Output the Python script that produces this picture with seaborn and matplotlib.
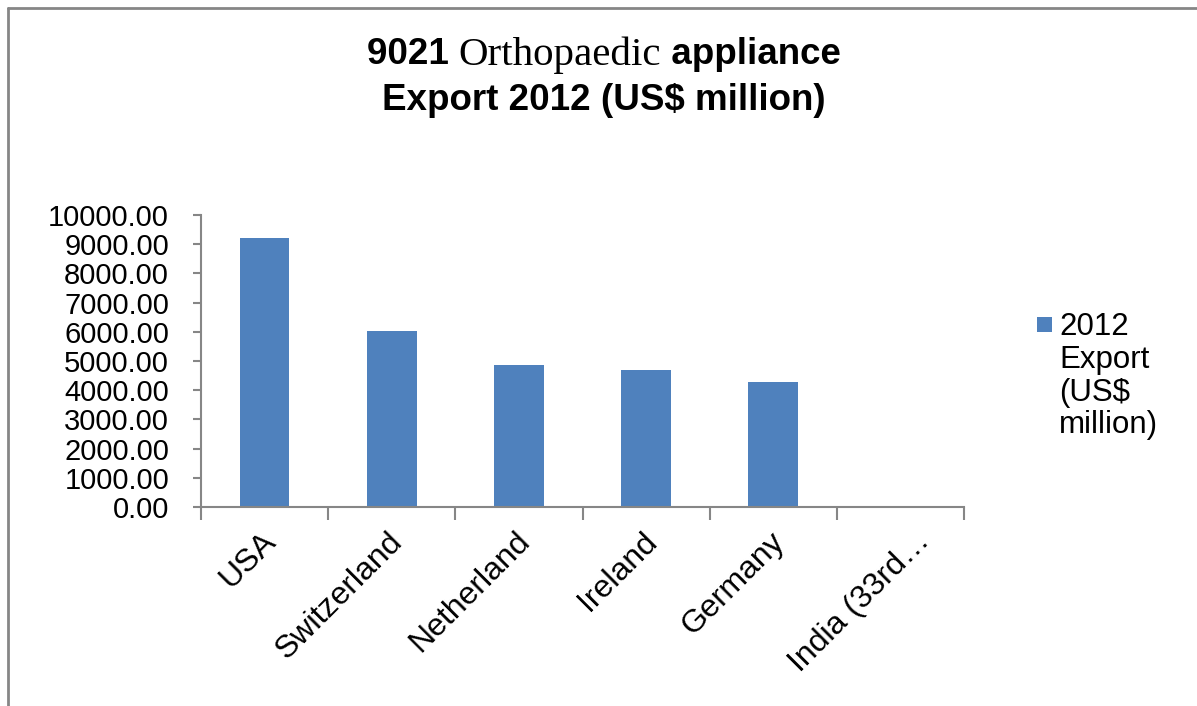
import matplotlib
matplotlib.use("Agg")
import matplotlib.pyplot as plt
from matplotlib.lines import Line2D
from matplotlib.patches import Rectangle
from matplotlib.ticker import FixedLocator, FuncFormatter
import matplotlib.transforms as mtransforms
import seaborn as sns
import pandas as pd

# ---- data ----
countries = ["USA", "Switzerland", "Netherland", "Ireland", "Germany", "India (33rd\u2026"]
export_2012 = [9215, 6030, 4865, 4695, 4280, 12]
series_label = "2012\nExport\n(US$\nmillion)"
title_line1 = ["9021 ", "Orthopaedic", " appliance"]
title_line2 = "Export 2012 (US$ million)"
y_ticks = [0, 1000, 2000, 3000, 4000, 5000, 6000, 7000, 8000, 9000, 10000]

BAR = "#4F81BD"
GRAY = "#868686"
YFS = 21
XFS = 23
LFS = 22.5

sns.set_theme(style="white")
plt.rcParams["font.family"] = ["Liberation Sans", "DejaVu Sans"]

W, H = 1197, 706
fig = plt.figure(figsize=(W / 100, H / 100), dpi=100)
ax = fig.add_axes([201 / W, 1 - 507 / H, (964 - 201) / W, (507 - 215) / H])

df = pd.DataFrame({"country": countries, "value": export_2012})
sns.barplot(data=df, x="country", y="value", color=BAR, saturation=1,
            width=0.39, ax=ax, edgecolor="none")

ax.set_xlim(-0.5, len(countries) - 0.5)
ax.set_ylim(0, 10000)
ax.set_xlabel("")
ax.set_ylabel("")

for s in ["top", "right"]:
    ax.spines[s].set_visible(False)
for s in ["left", "bottom"]:
    ax.spines[s].set_color(GRAY)
    ax.spines[s].set_linewidth(1.5)

ax.yaxis.set_major_locator(FixedLocator(y_ticks))
ax.yaxis.set_major_formatter(FuncFormatter(lambda v, p: f"{v:.2f}"))
ax.tick_params(axis="y", which="major", direction="out", length=6, width=1.5,
               color=GRAY, labelsize=YFS, labelcolor="black", pad=17, left=True)

# x: category boundary ticks as minor ticks, labels on major (no tick)
ax.xaxis.set_minor_locator(FixedLocator([i - 0.5 for i in range(len(countries) + 1)]))
ax.tick_params(axis="x", which="minor", direction="out", length=9, width=1.5,
               color=GRAY, bottom=True)
ax.tick_params(axis="x", which="major", length=0, labelsize=XFS, labelcolor="black", pad=14)
ax.set_xticks(range(len(countries)))
ax.set_xticklabels(countries, rotation=45, ha="right", va="top",
                   rotation_mode="anchor")
labels = ax.get_xticklabels()
for i, lbl in enumerate(labels):
    dx = -4 if i < len(labels) - 1 else 14
    off = mtransforms.ScaledTranslation(dx / 100, 0, fig.dpi_scale_trans)
    lbl.set_transform(lbl.get_transform() + off)

# ---- title (mixed fonts on line 1) ----
fig.canvas.draw()
renderer = fig.canvas.get_renderer()
TFS = 26.5
specs = [
    (title_line1[0], dict(fontsize=TFS, fontweight="bold", family=["Liberation Sans"])),
    (title_line1[1], dict(fontsize=TFS + 3, fontweight="normal", family=["Liberation Serif"])),
    (title_line1[2], dict(fontsize=TFS, fontweight="bold", family=["Liberation Sans"])),
]
texts = []
for s, kw in specs:
    t = fig.text(0, 1 - 51 / H, s, ha="left", va="center_baseline", color="black", **kw)
    texts.append(t)
widths = [t.get_window_extent(renderer).width for t in texts]
total = sum(widths)
cx = 604
x = cx - total / 2
for t, w in zip(texts, widths):
    t.set_x(x / W)
    x += w
fig.text(cx / W, 1 - 96 / H, title_line2, ha="center", va="center_baseline",
         fontsize=TFS, fontweight="bold", color="black")

# ---- legend ----
fig.add_artist(Rectangle((1037 / W, 1 - 332 / H), 15 / W, 15 / H,
                         transform=fig.transFigure, facecolor=BAR, edgecolor="none"))
fig.text(1059 / W, 1 - 312 / H, series_label, ha="left", va="top",
         fontsize=LFS, color="black", linespacing=1.12)

# ---- chart-area border (left and top only visible) ----
fig.add_artist(Line2D([8 / W, 8 / W], [0, 1 - 8 / H], transform=fig.transFigure,
                      color=GRAY, linewidth=2))
fig.add_artist(Line2D([8 / W, 1], [1 - 8 / H, 1 - 8 / H], transform=fig.transFigure,
                      color=GRAY, linewidth=2))

fig.savefig("out.png", dpi=100, facecolor="white")
